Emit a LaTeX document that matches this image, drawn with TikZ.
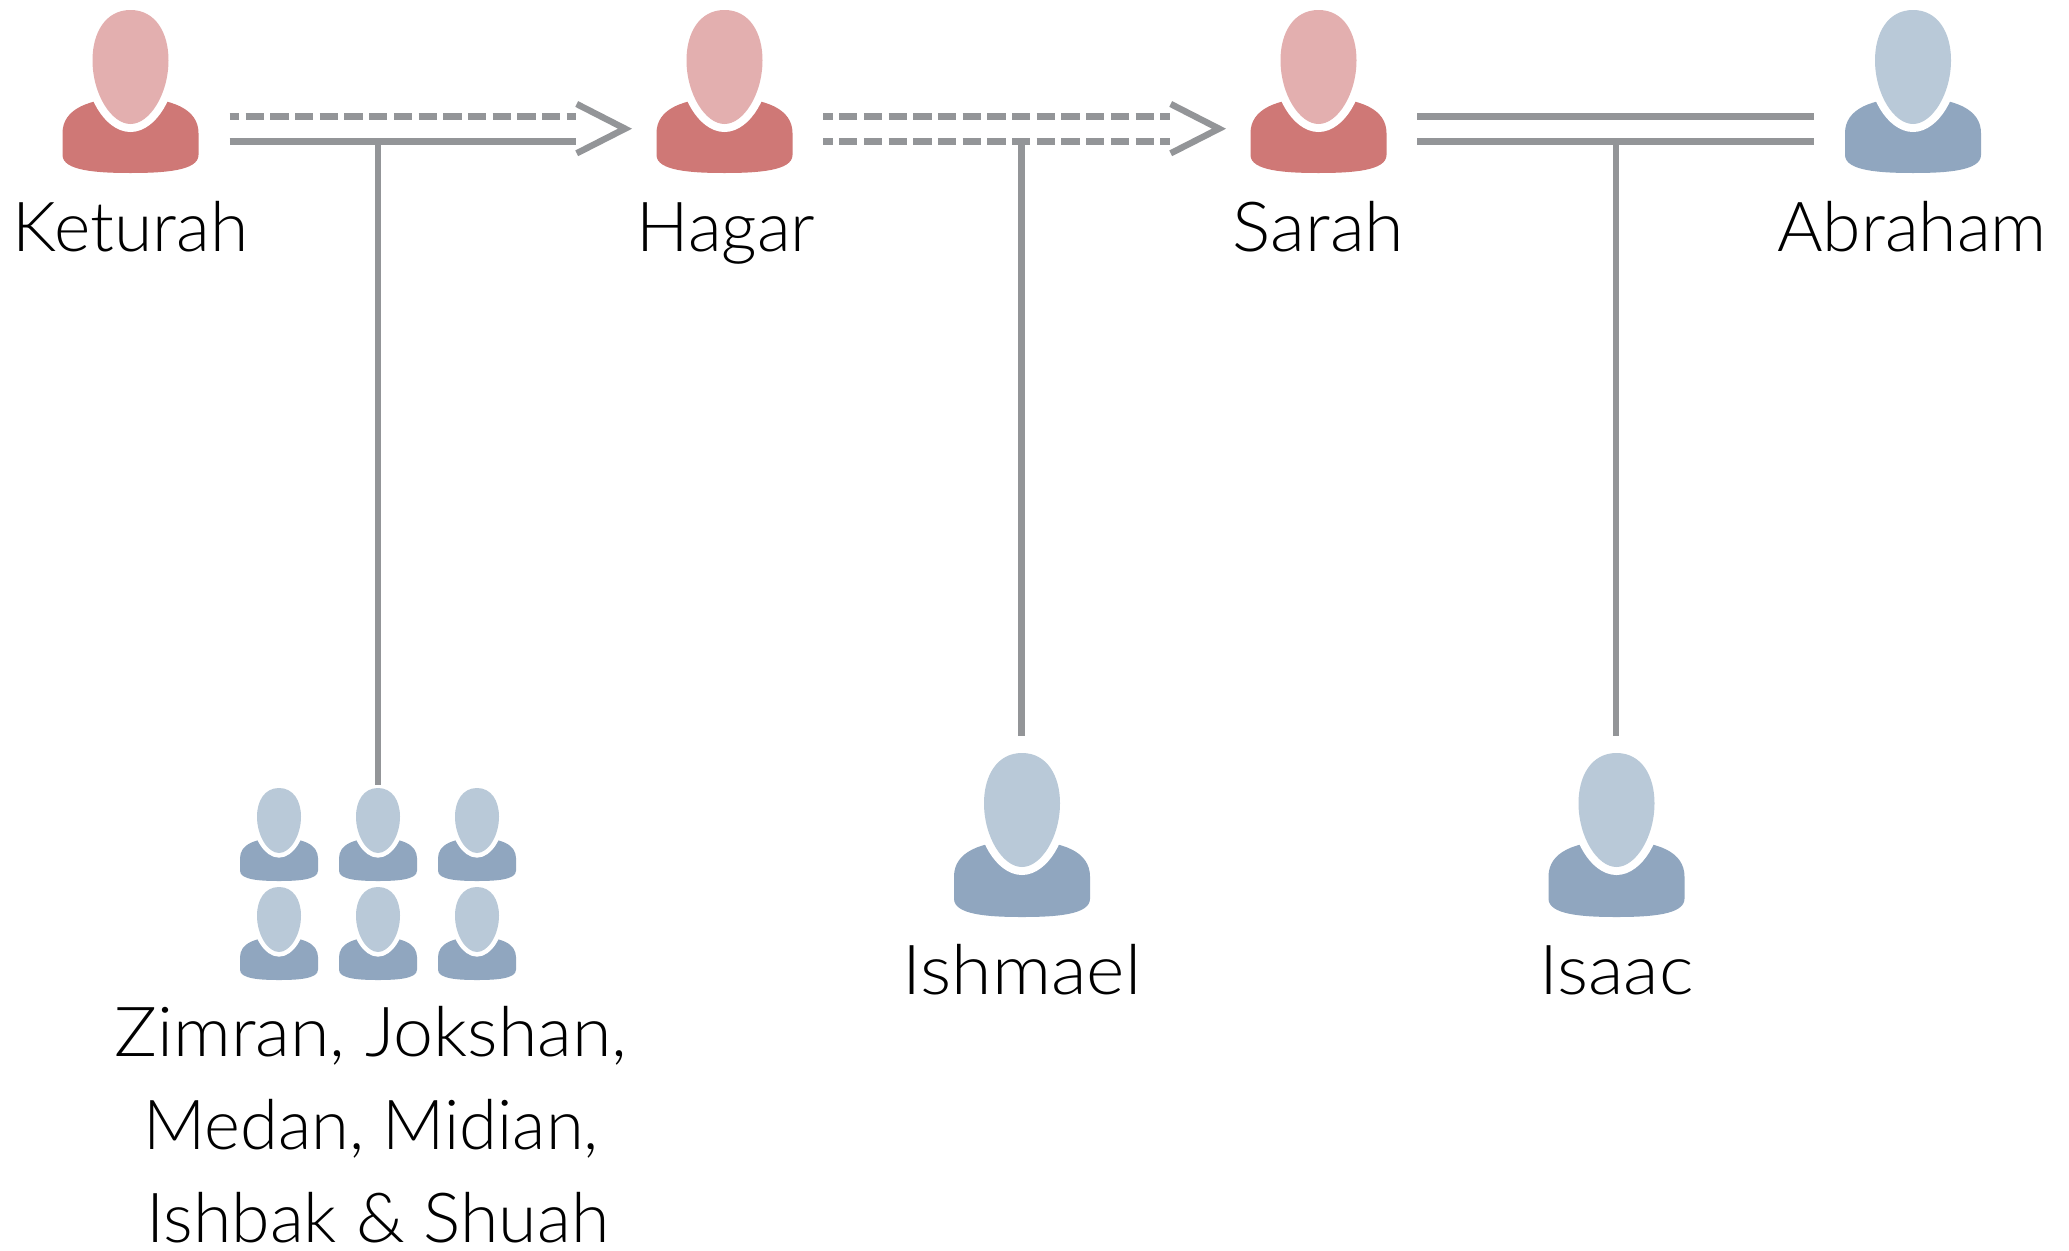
\documentclass[tikz,border=0pt]{standalone}
\usepackage{fontspec}
\setmainfont{Lato Light}
\definecolor{redhead}{HTML}{E3AFAF}
\definecolor{redbody}{HTML}{CF7876}
\definecolor{bluehead}{HTML}{B9C9D8}
\definecolor{bluebody}{HTML}{90A6BF}
\definecolor{linegray}{HTML}{939598}
\newcommand{\person}[9]{%
% #1 name #2 body colour #3 head colour #4 cx #5 head top #6 head bottom #7 head halfwidth #8 shoulder halfwidth #9 bottom
\begin{scope}[shift={(#4,0)}]
\pgfmathsetmacro{\hmid}{#5+(#6-#5)*0.44}
\pgfmathsetmacro{\gap}{#7*0.21}
\pgfmathsetmacro{\rr}{#8}
\pgfmathsetmacro{\bt}{#9}
\pgfmathsetmacro{\ht}{#6-#5}
\pgfmathsetmacro{\st}{#5+\ht*0.77}
\pgfmathsetmacro{\sm}{\st+(\bt-\st)*0.47}
\pgfmathsetmacro{\sb}{\bt-(\bt-\st)*0.24}
\fill[#2] (-\rr,\sm) .. controls (-\rr,\st+\ht*0.10) and (-\rr*0.62,\st) .. (0,\st)
  .. controls (\rr*0.62,\st) and (\rr,\st+\ht*0.10) .. (\rr,\sm)
  -- (\rr,\sb) .. controls (\rr,\bt-\ht*0.02) and (\rr*0.5,\bt) .. (0,\bt)
  .. controls (-\rr*0.5,\bt) and (-\rr,\bt-\ht*0.02) .. (-\rr,\sb) -- cycle;
\def\headpath{(0,#5) .. controls (#7*0.66,#5) and (#7,\hmid-\ht*0.24) .. (#7,\hmid)
  .. controls (#7,\hmid+\ht*0.3) and (#7*0.5,#6) .. (0,#6)
  .. controls (-#7*0.5,#6) and (-#7,\hmid+\ht*0.3) .. (-#7,\hmid)
  .. controls (-#7,\hmid-\ht*0.24) and (-#7*0.66,#5) .. (0,#5) -- cycle}
\draw[white,line width=2*\gap pt] \headpath;
\fill[#3] \headpath;
\end{scope}%
\node[inner sep=0pt,minimum size=0pt] (#1) at (#4,#5) {};
}
\tikzset{
 solidline/.style={draw=linegray,line width=7pt},
 dashline/.style={draw=linegray,line width=7pt,dash pattern=on 18.3pt off 6.4pt,dash phase=8.6pt},
 dropline/.style={draw=linegray,line width=6.4pt},
 headline/.style={draw=linegray,line width=6.4pt,miter limit=10},
 namelabel/.style={font=\fontsize{69}{83}\selectfont,text=black,inner sep=0pt,anchor=base},
}
\begin{document}
\begin{tikzpicture}[x=1pt,y=-1pt]
\useasboundingbox (0,0) rectangle (2069,1250);
\fill[white] (0,0) rectangle (2069,1250);
\person{keturah}{redbody}{redhead}{130.5}{10}{124}{38}{68}{173}
\person{hagar}{redbody}{redhead}{724.5}{10}{124}{38}{68}{173}
\person{sarah}{redbody}{redhead}{1318.5}{10}{124}{38}{68}{173}
\person{abraham}{bluebody}{bluehead}{1913}{10}{124}{38}{68}{173}
\person{ishmael}{bluebody}{bluehead}{1022}{753}{867}{38}{68}{917}
\person{isaac}{bluebody}{bluehead}{1616.5}{753}{867}{38}{68}{917}
\person{zimran}{bluebody}{bluehead}{279}{788}{853}{22}{39}{881}
\person{jokshan}{bluebody}{bluehead}{378}{788}{853}{22}{39}{881}
\person{medan}{bluebody}{bluehead}{477}{788}{853}{22}{39}{881}
\person{midian}{bluebody}{bluehead}{279}{887}{952}{22}{39}{980}
\person{ishbak}{bluebody}{bluehead}{378}{887}{952}{22}{39}{980}
\person{shuah}{bluebody}{bluehead}{477}{887}{952}{22}{39}{980}
% connector endpoints
\coordinate (kh1) at (229.5,116.5); \coordinate (kh2) at (576,116.5);
\coordinate (kh3) at (229.5,141); \coordinate (kh4) at (576,141);
\coordinate (kt) at (625,128.7); \coordinate (ka) at (576.7,104); \coordinate (kb) at (576.7,153.3);
\coordinate (hs1) at (823,116.5); \coordinate (hs2) at (1170,116.5);
\coordinate (hs3) at (823,141); \coordinate (hs4) at (1170,141);
\coordinate (ht) at (1219,128.7); \coordinate (ha) at (1170.7,104); \coordinate (hb) at (1170.7,153.3);
\coordinate (sa1) at (1417,116.5); \coordinate (sa2) at (1814,116.5);
\coordinate (sa3) at (1417,141); \coordinate (sa4) at (1814,141);
\coordinate (kd) at (378,141); \coordinate (kde) at (378,785);
\coordinate (hd) at (1021.5,141); \coordinate (hde) at (1021.5,736);
\coordinate (sd) at (1616,141); \coordinate (sde) at (1616,736);
\draw[dropline] (kd) -- (kde);
\draw[dropline] (hd) -- (hde);
\draw[dropline] (sd) -- (sde);
\draw[dashline] (kh1) -- (kh2);
\draw[solidline] (kh3) -- (kh4);
\draw[headline] (ka) -- (kt) -- (kb);
\draw[dashline] (hs1) -- (hs2);
\draw[dashline] (hs3) -- (hs4);
\draw[headline] (ha) -- (ht) -- (hb);
\draw[solidline] (sa1) -- (sa2);
\draw[solidline] (sa3) -- (sa4);
\node[namelabel,xscale=1.008] (lketurah) at (130.5,251.5) {Keturah};
\node[namelabel,xscale=1.007] (lhagar) at (726,251.5) {Hagar};
\node[namelabel,xscale=1.04] (lsarah) at (1318.5,251.5) {Sarah};
\node[namelabel,xscale=1.01] (labraham) at (1912,251.5) {Abraham};
\node[namelabel,xscale=1.064] (lishmael) at (1022,994) {Ishmael};
\node[namelabel,xscale=1.06] (lisaac) at (1616.5,994) {Isaac};
\node[namelabel,xscale=1.04] (lz1) at (371,1056.5) {Zimran, Jokshan,};
\node[namelabel,xscale=0.995] (lz2) at (371,1149.5) {Medan, Midian,};
\node[namelabel,xscale=1.012] (lz3) at (378,1242.5) {Ishbak \& Shuah};
\end{tikzpicture}
\end{document}
